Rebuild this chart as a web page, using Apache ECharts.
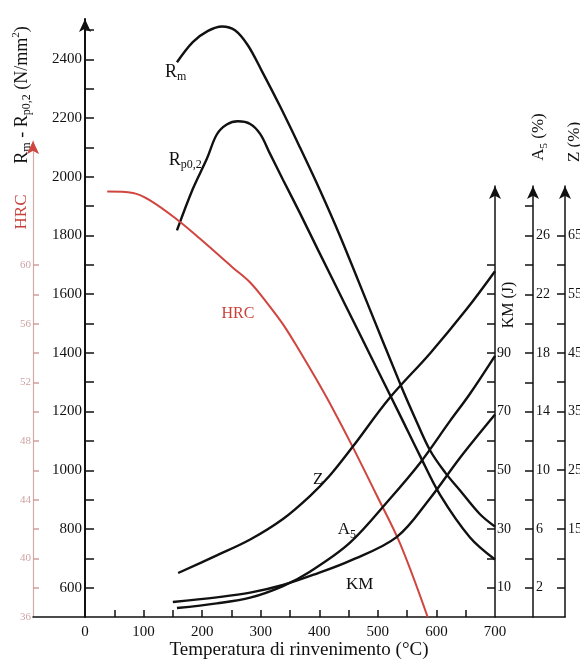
<!DOCTYPE html>
<html>
<head>
<meta charset="utf-8">
<script src="https://cdn.jsdelivr.net/npm/echarts@6/dist/echarts.min.js"></script>
<style>
html, body { margin: 0; background: #fff; }
#chart { width: 580px; height: 660px; }
</style>
</head>
<body>
<div id="chart"></div>
<script>
// values
var tempRm = [157, 184, 210, 234, 256, 278, 302, 333, 367, 401, 435, 486, 538, 563, 589, 615, 640, 674, 700];
var rm     = [2390, 2459, 2497, 2512, 2499, 2448, 2360, 2240, 2100, 1955, 1800, 1550, 1295, 1180, 1068, 992, 932, 851, 808];

var tempRp = [157, 184, 208, 225, 242, 261, 282, 299, 316, 338, 367, 398, 444, 490, 538, 572, 606, 657, 700];
var rp     = [1817, 1958, 2061, 2144, 2178, 2189, 2180, 2146, 2078, 1990, 1876, 1750, 1565, 1380, 1187, 1049, 917, 772, 696];

var tempHrc = [38, 82, 111, 157, 196, 253, 282, 311, 339, 367, 395, 423, 457, 498, 538, 585];
var hrc     = [65.0, 64.9, 64.4, 63.1, 61.8, 59.8, 58.8, 57.4, 55.9, 54.1, 52.2, 50.2, 47.6, 44.3, 41.0, 36.0];

var tempZ = [159, 225, 282, 338, 384, 418, 457, 520, 589, 652, 700];
var zPct  = [7.5, 10.5, 13.2, 16.7, 20.6, 24.1, 29.0, 37.3, 44.9, 52.5, 58.9];

var tempA5 = [157, 225, 282, 338, 384, 452, 520, 572, 623, 657, 700];
var a5Pct  = [0.61, 0.93, 1.32, 2.11, 3.09, 5.05, 8.03, 10.5, 13.35, 15.2, 17.8];

var tempKm = [150, 225, 282, 338, 396, 452, 532, 589, 640, 700];
var kmJ    = [5.1, 6.7, 8.3, 10.9, 14.8, 19.1, 27.2, 40.4, 54.2, 69.0];

// tick labels
var tempLabels = [0, 100, 200, 300, 400, 500, 600, 700];
var tempTicks  = [50, 100, 150, 200, 250, 300, 350, 400, 450, 500, 550, 600, 650];
var rmLabels = [600, 800, 1000, 1200, 1400, 1600, 1800, 2000, 2200, 2400];
var rmTicks  = [600, 700, 800, 900, 1000, 1100, 1200, 1300, 1400, 1500, 1600, 1700, 1800, 1900, 2000, 2100, 2200, 2300, 2400, 2500];
var hrcLabels = [36, 40, 44, 48, 52, 56, 60];
var hrcTicks  = [38, 40, 42, 44, 46, 48, 50, 52, 54, 56, 58, 60];
var kmLabels = [10, 30, 50, 70, 90];
var kmTicks  = [10, 20, 30, 40, 50, 60, 70, 80, 90, 100, 110, 120];
var a5Labels = [2, 6, 10, 14, 18, 22, 26];
var a5Ticks  = [2, 4, 6, 8, 10, 12, 14, 16, 18, 20, 22, 24, 26, 28];
var zLabels = [15, 25, 35, 45, 55, 65];
var zTicks  = [5, 10, 15, 20, 25, 30, 35, 40, 45, 50, 55, 60, 65];

var serif = '"Liberation Serif", "DejaVu Serif", serif';
var red = '#d0453f';

function pairs(xs, ys) {
    return xs.map(function (x, i) { return [x, ys[i]]; });
}

function plain(v) {
    return String(v);
}

function curve(name, xs, ys, xi, yi, color, width, tag) {
    return {
        name: name,
        type: 'line',
        xAxisIndex: xi,
        yAxisIndex: yi,
        data: pairs(xs, ys),
        smooth: 0.35,
        symbol: 'none',
        silent: true,
        lineStyle: { color: color, width: width },
        markPoint: {
            symbol: 'circle',
            symbolSize: 1,
            itemStyle: { color: 'rgba(0,0,0,0)' },
            silent: true,
            data: [{ coord: tag.at, label: tag.label }]
        }
    };
}

function tagLabel(text, color, size) {
    return {
        show: true,
        position: 'inside',
        formatter: text,
        color: color,
        fontFamily: serif,
        fontSize: size,
        rich: {
            b: { fontFamily: serif, fontSize: size, color: color, lineHeight: 22 },
            s: { fontFamily: serif, fontSize: 12, color: color, lineHeight: 13, verticalAlign: 'bottom' }
        }
    };
}

function valueAxis(o) {
    return {
        type: 'value',
        gridIndex: o.grid,
        position: o.pos,
        offset: o.offset || 0,
        min: o.min,
        max: o.max,
        splitLine: { show: false },
        axisLine: {
            show: true,
            onZero: false,
            symbol: ['none', 'arrow'],
            symbolSize: [9, 13],
            lineStyle: { color: o.color, width: o.width || 1.5 }
        },
        axisTick: {
            show: true,
            inside: true,
            length: o.tickLen || 8,
            customValues: o.ticks,
            lineStyle: { color: o.tickColor || o.color, width: 1.5 }
        },
        axisLabel: {
            show: true,
            margin: o.margin || 3,
            customValues: o.labels,
            formatter: plain,
            color: o.labelColor || '#111',
            fontFamily: serif,
            fontSize: o.fontSize || 15
        }
    };
}

var myChart = echarts.init(document.getElementById('chart'), null, { renderer: 'canvas' });

var option = {
    animation: false,
    backgroundColor: '#fff',
    grid: [
        { left: 85, right: 85, top: 19, bottom: 43, outerBoundsMode: 'none' },
        { left: 85, right: 85, top: 141, bottom: 43, outerBoundsMode: 'none' },
        { left: 85, right: 85, top: 186, bottom: 43, outerBoundsMode: 'none' },
        { left: 33, right: 15, top: 500, bottom: 43, outerBoundsMode: 'none' }
    ],
    xAxis: [
        {
            type: 'value', gridIndex: 0, min: 0, max: 700,
            splitLine: { show: false },
            axisLine: { show: false, onZero: false },
            axisTick: { show: true, inside: true, length: 7, customValues: tempTicks, lineStyle: { color: '#111', width: 1.5 } },
            axisLabel: { customValues: tempLabels, formatter: plain, margin: 8, color: '#111', fontFamily: serif, fontSize: 15 }
        },
        { type: 'value', gridIndex: 1, min: 0, max: 700, show: false },
        { type: 'value', gridIndex: 2, min: 0, max: 700, show: false },
        {
            type: 'value', gridIndex: 3, min: 0, max: 1,
            splitLine: { show: false },
            axisLine: { show: true, onZero: false, lineStyle: { color: '#111', width: 1.5 } },
            axisTick: { show: false },
            axisLabel: { show: false },
            name: 'Temperatura di rinvenimento (°C)',
            nameLocation: 'middle',
            nameGap: 24,
            nameTextStyle: { color: '#111', fontFamily: serif, fontSize: 19 }
        }
    ],
    yAxis: [
        valueAxis({ grid: 0, pos: 'left', min: 500, max: 2537.5, color: '#111', width: 2,
                    ticks: rmTicks, labels: rmLabels, tickLen: 9, margin: 3, fontSize: 15 }),
        valueAxis({ grid: 1, pos: 'left', offset: 52, min: 36, max: 68.45, color: '#d4a9a9', width: 1.2,
                    ticks: hrcTicks, labels: hrcLabels, tickLen: 6, margin: 2, fontSize: 11,
                    labelColor: '#cfa3a3', tickColor: '#cf9f9f' }),
        {
            type: 'value', gridIndex: 1, position: 'left', offset: 52, min: 36, max: 68.45,
            splitLine: { show: false }, axisTick: { show: false }, axisLabel: { show: false },
            axisLine: { show: true, onZero: false, symbol: ['none', 'arrow'], symbolSize: [9, 13],
                        lineStyle: { color: red, width: 0 } }
        },
        valueAxis({ grid: 2, pos: 'right', offset: 0, min: 0, max: 146.85, color: '#111',
                    ticks: kmTicks, labels: kmLabels, margin: 2, fontSize: 14 }),
        valueAxis({ grid: 2, pos: 'right', offset: 38, min: 0, max: 29.38, color: '#111',
                    ticks: a5Ticks, labels: a5Labels, margin: 3, fontSize: 14 }),
        valueAxis({ grid: 2, pos: 'right', offset: 70, min: 0, max: 73.42, color: '#111',
                    ticks: zTicks, labels: zLabels, margin: 3, fontSize: 14 }),
        { type: 'value', gridIndex: 3, show: false }
    ],
    graphic: [
        {
            type: 'text', x: 22, y: 95, rotation: Math.PI / 2,
            style: {
                text: '{b|R}{s|m}{b| - R}{s|p0,2}{b| (N/mm}{p|2}{b|)}',
                align: 'center', verticalAlign: 'middle',
                rich: {
                    b: { fontFamily: serif, fontSize: 18, fill: '#111', lineHeight: 22 },
                    s: { fontFamily: serif, fontSize: 12, fill: '#111', lineHeight: 13, verticalAlign: 'bottom' },
                    p: { fontFamily: serif, fontSize: 11, fill: '#111', lineHeight: 12, verticalAlign: 'top' }
                }
            }
        },
        {
            type: 'text', x: 22, y: 212, rotation: Math.PI / 2,
            style: { text: 'HRC', fill: '#c8403b', font: '17px ' + serif, align: 'center', verticalAlign: 'middle' }
        },
        {
            type: 'text', x: 509, y: 305, rotation: Math.PI / 2,
            style: { text: 'KM (J)', fill: '#111', font: '16px ' + serif, align: 'center', verticalAlign: 'middle' }
        },
        {
            type: 'text', x: 539, y: 137, rotation: Math.PI / 2,
            style: {
                text: '{b|A}{s|5}{b| (%)}',
                align: 'center', verticalAlign: 'middle',
                rich: {
                    b: { fontFamily: serif, fontSize: 17, fill: '#111', lineHeight: 21 },
                    s: { fontFamily: serif, fontSize: 11, fill: '#111', lineHeight: 12, verticalAlign: 'bottom' }
                }
            }
        },
        {
            type: 'text', x: 575, y: 142, rotation: Math.PI / 2,
            style: { text: 'Z (%)', fill: '#111', font: '17px ' + serif, align: 'center', verticalAlign: 'middle' }
        }
    ],
    series: [
        curve('Rm', tempRm, rm, 0, 0, '#111', 2.4,
              { at: [155, 2357], label: tagLabel('{b|R}{s|m}', '#111', 18) }),
        curve('Rp0,2', tempRp, rp, 0, 0, '#111', 2.4,
              { at: [171, 2057], label: tagLabel('{b|R}{s|p0,2}', '#111', 18) }),
        curve('HRC', tempHrc, hrc, 1, 1, red, 2,
              { at: [261, 56.7], label: tagLabel('HRC', '#c8403b', 16) }),
        curve('Z', tempZ, zPct, 2, 5, '#111', 2.4,
              { at: [398, 23.5], label: tagLabel('Z', '#111', 17) }),
        curve('A5', tempA5, a5Pct, 2, 4, '#111', 2.4,
              { at: [447, 5.93], label: tagLabel('{b|A}{s|5}', '#111', 17) }),
        curve('KM', tempKm, kmJ, 2, 3, '#111', 2.4,
              { at: [469, 10.9], label: tagLabel('KM', '#111', 17) })
    ]
};

if (option && typeof option === 'object') {
    myChart.setOption(option);
}

window.addEventListener('resize', myChart.resize);
</script>
</body>
</html>
